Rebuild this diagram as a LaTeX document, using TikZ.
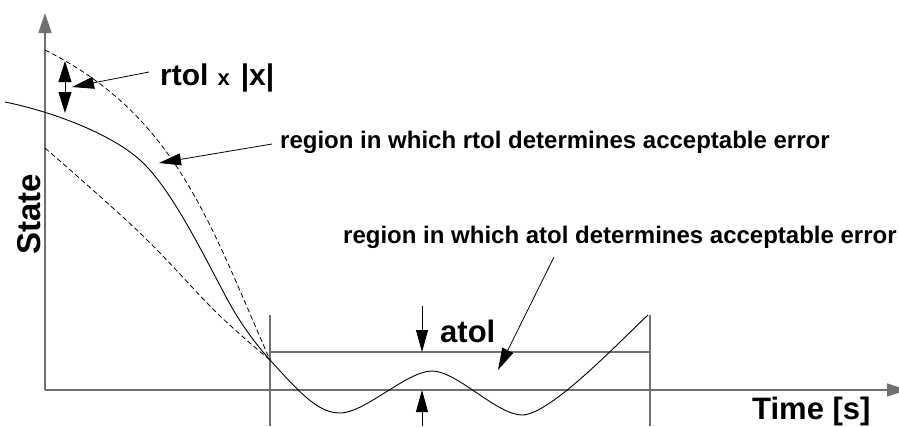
\documentclass[tikz,border=0pt]{standalone}
\usepackage{fontspec}
\setmainfont{Liberation Sans}
\usetikzlibrary{arrows.meta}
\definecolor{axgray}{RGB}{112,112,112}
\begin{document}
\begin{tikzpicture}[x=1pt,y=-1pt,
  lab/.style={inner sep=0pt, font=\bfseries\fontsize{24}{28}\selectfont},
  big/.style={inner sep=0pt, font=\bfseries\fontsize{31}{36}\selectfont},
  axis/.style={draw=axgray, line width=1.6pt, -{Triangle[length=20pt,width=13pt]}},
  ptr/.style={draw=black, line width=0.8pt, -{Triangle[length=22pt,width=12pt]}},
  dptr/.style={draw=black, line width=0.8pt, {Triangle[length=21pt,width=13pt]}-{Triangle[length=21pt,width=13pt]}},
  guide/.style={draw=axgray, line width=1.1pt},
  curve/.style={draw=black, line width=0.9pt},
  dcurve/.style={draw=black, line width=0.8pt, dash pattern=on 5pt off 3pt}]
\useasboundingbox (0,0) rectangle (899,426);

% axes
\coordinate (org) at (45,390);
\coordinate (ytip) at (45,13);
\coordinate (xtip) at (907,390);
\draw[axis] (org) -- (ytip);
\draw[axis] (org) -- (xtip);

% atol region guides
\coordinate (vlb) at (270,426); \coordinate (vlt) at (270,315);
\coordinate (vrb) at (650,426); \coordinate (vrt) at (650,315);
\coordinate (hl) at (270,352); \coordinate (hr) at (650,352);
\draw[guide] (vlb) -- (vlt);
\draw[guide] (vrb) -- (vrt);
\draw[guide] (hl) -- (hr);

% curves
\coordinate (meet) at (270,360);
\draw[curve] (5,102) .. controls (50,111) and (110,133) .. (140,160)
  .. controls (170,187) and (200,248) .. (225,295)
  .. controls (240,323.5) and (255,343) .. (meet)
  .. controls (300,393) and (318,413) .. (340,413)
  .. controls (365,413) and (407,371) .. (432,371)
  .. controls (457,371) and (497,415) .. (522,415)
  .. controls (550,415) and (618,343) .. (648,315);
\draw[dcurve] (45,50) .. controls (175,115) and (208,219) .. (meet);
\draw[dcurve] plot[smooth, tension=0.6] coordinates {(45,148) (140,233) (217,313) (270,360)};

% labels
\node[big, rotate=90, anchor=base, font=\bfseries\fontsize{33}{38}\selectfont] (state) at (40,214) {State};
\node[big, anchor=base west] (time) at (752,419) {Time [s]};
\node[big, anchor=base west] (atol) at (440,342) {atol};
\node[lab, anchor=base west] (rreg) at (280,148) {region in which rtol determines acceptable error};
\node[lab, anchor=base west] (areg) at (343,243) {region in which atol determines acceptable error};
\node[inner sep=0pt, anchor=base west, font=\bfseries] (rtx) at (160,85)
  {{\fontsize{30}{34}\selectfont rtol}\hspace{9pt}{\fontsize{22}{26}\selectfont x}\hspace{11pt}{\fontsize{30}{34}\selectfont |x|}};

% pointers
\coordinate (p1s) at (149,72); \coordinate (p1e) at (72,87);
\draw[ptr] (p1s) -- (p1e);
\coordinate (d1) at (65,61); \coordinate (d2) at (65,113);
\draw[dptr] (d1) -- (d2);
\coordinate (p2s) at (272,144); \coordinate (p2e) at (159,163);
\draw[ptr] (p2s) -- (p2e);
\coordinate (p3s) at (554,257); \coordinate (p3e) at (498,370);
\draw[ptr] (p3s) -- (p3e);
\coordinate (a1s) at (422,306); \coordinate (a1e) at (422,352);
\draw[ptr] (a1s) -- (a1e);
\coordinate (a2s) at (422,426); \coordinate (a2e) at (422,390);
\draw[ptr] (a2s) -- (a2e);
\end{tikzpicture}
\end{document}
